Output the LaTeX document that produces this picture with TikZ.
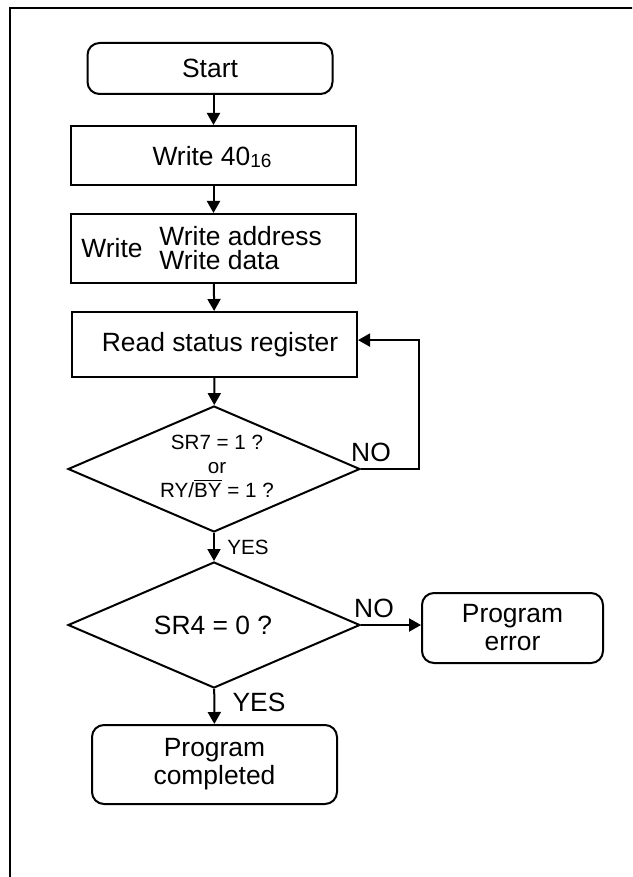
\documentclass[tikz,border=0pt]{standalone}
\usepackage{fontspec}
\setmainfont{Liberation Sans}
\usetikzlibrary{arrows.meta,shapes.geometric}
\tikzset{
  txt/.style={font=\fontsize{13.2}{15}\selectfont,inner sep=0pt},
  small/.style={font=\fontsize{10.3}{12}\selectfont,inner sep=0pt},
  procbox/.style={draw,line width=1pt,rectangle,inner sep=0pt,minimum width=142.5pt},
  termbox/.style={draw,line width=1pt,rectangle,rounded corners=6pt,inner sep=0pt,align=center,
    font=\fontsize{13.2}{14}\selectfont},
  decide/.style={draw,line width=1pt,diamond,inner sep=0pt,minimum width=146pt,minimum height=63pt},
  arr/.style={line width=1pt,-{Triangle[length=6pt,width=6.5pt]}},
}

\begin{document}
\begin{tikzpicture}[x=0.5pt,y=-0.5pt]
  \useasboundingbox (0,0) rectangle (632,877);
  \begin{scope}
    \clip (0,0) rectangle (632,877);
    \draw[line width=1.3pt] (640,8) -- (10,8) -- (10,890);
  \end{scope}
  % boxes
  \node[termbox,minimum width=122.5pt,minimum height=25.5pt] (start) at (210,68.5) {Start};
  \node[procbox,minimum height=29.5pt] (wr40) at (213.5,155.5) {};
  \node[txt] (wr40t) at (212,157) {Write 40\raisebox{-0.8pt}{\fontsize{9.5}{10}\selectfont 16}};
  \node[procbox,minimum height=34.5pt] (wr) at (213.5,248.5) {};
  \node[txt] (wrt) at (112,248) {Write};
  \node[txt,anchor=west,align=left,font=\fontsize{13.2}{12}\selectfont] (wrad) at (159,248.5)
    {Write address\\Write data};
  \node[procbox,minimum height=32.5pt] (rd) at (214.5,344.5) {};
  \node[txt] (rdt) at (220,345) {Read status register};
  \node[decide] (d1) at (214,469) {};
  \node[small,align=center,font=\fontsize{10.3}{12}\selectfont] (d1t) at (217,466)
    {SR7 = 1 ?\\or\\RY/$\overline{\mbox{BY}}$ = 1 ?};
  \node[decide] (d2) at (214,625) {};
  \node[txt] (d2t) at (213,625) {SR4 = 0 ?};
  \node[termbox,minimum width=90.5pt,minimum height=35pt] (err) at (512.5,628) {Program\\error};
  \node[termbox,minimum width=122.5pt,minimum height=39.5pt] (done) at (214.5,764.5) {Program\\completed};
  % labels
  \node[txt] (no1) at (371,452) {NO};
  \node[small] (yes1) at (248,547) {YES};
  \node[txt] (no2) at (374,608) {NO};
  \node[txt] (yes2) at (259,702) {YES};
  % arrows
  \coordinate (lp) at (419,469);
  \draw[arr] (start.south -| wr40.north) -- (wr40.north);
  \draw[arr] (wr40) -- (wr);
  \draw[arr] (wr) -- (rd);
  \draw[arr] (rd) -- (d1);
  \draw[arr] (d1.east) -- (lp) |- ([yshift=2.2pt]rd.east);
  \draw[arr] (d1) -- (d2);
  \draw[arr] (d2.east) -- (d2.east -| err.west);
  \draw[arr] (d2) -- (done);
\end{tikzpicture}
\end{document}
